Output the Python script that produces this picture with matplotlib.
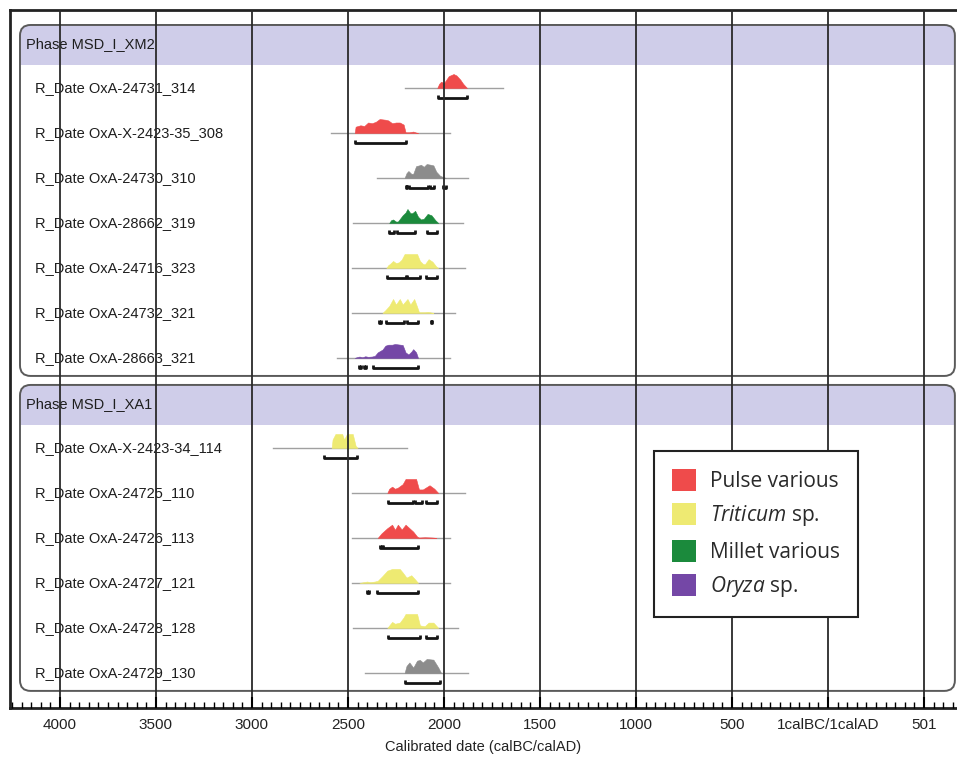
import matplotlib.pyplot as plt
from matplotlib.patches import FancyBboxPatch, Rectangle, Patch
from matplotlib.ticker import MultipleLocator

plt.rcParams['font.family'] = ['Liberation Sans', 'DejaVu Sans']
plt.rcParams['mathtext.fontset'] = 'custom'
plt.rcParams['mathtext.rm'] = 'Open Sans'
plt.rcParams['mathtext.it'] = 'Open Sans:italic'

# Phases and samples (dates in years calBC, AD as negative)
phases = ['Phase MSD_I_XM2', 'Phase MSD_I_XA1']
phase_counts = [7, 6]
labels = ['R_Date OxA-24731_314', 'R_Date OxA-X-2423-35_308', 'R_Date OxA-24730_310',
          'R_Date OxA-28662_319', 'R_Date OxA-24716_323', 'R_Date OxA-24732_321',
          'R_Date OxA-28663_321',
          'R_Date OxA-X-2423-34_114', 'R_Date OxA-24725_110', 'R_Date OxA-24726_113',
          'R_Date OxA-24727_121', 'R_Date OxA-24728_128', 'R_Date OxA-24729_130']
kinds = ['pulse', 'pulse', 'other', 'millet', 'triticum', 'triticum', 'oryza',
         'triticum', 'pulse', 'pulse', 'triticum', 'triticum', 'other']
kind_colors = {'pulse': '#ef4b4b', 'triticum': '#eeea72', 'millet': '#1b8a3c',
               'oryza': '#7447a6', 'other': '#8c8c8c'}

# Posterior outlines: (dates, relative heights)
dens_dates = [
    [2035, 2025, 2015, 2000, 1990, 1975, 1950, 1935, 1915, 1900, 1880],
    [2465, 2460, 2435, 2415, 2395, 2375, 2355, 2335, 2305, 2290, 2270, 2250, 2230, 2210, 2200, 2180, 2160, 2145, 2135],
    [2205, 2195, 2185, 2170, 2160, 2145, 2130, 2120, 2105, 2090, 2070, 2055, 2040, 2020, 2000, 1990],
    [2285, 2275, 2265, 2250, 2240, 2215, 2200, 2190, 2175, 2165, 2150, 2135, 2120, 2105, 2085, 2065, 2045, 2030],
    [2300, 2290, 2280, 2265, 2250, 2235, 2220, 2205, 2140, 2125, 2110, 2100, 2080, 2060, 2040, 2030],
    [2320, 2305, 2285, 2265, 2250, 2230, 2215, 2190, 2175, 2155, 2140, 2130, 2100, 2085, 2065, 2055],
    [2465, 2455, 2440, 2425, 2410, 2395, 2375, 2360, 2345, 2320, 2305, 2290, 2270, 2255, 2215, 2200, 2185, 2170, 2160, 2145, 2135],
    [2585, 2580, 2565, 2530, 2520, 2505, 2475, 2460, 2450],
    [2295, 2285, 2270, 2255, 2240, 2215, 2200, 2145, 2130, 2110, 2075, 2050, 2030],
    [2345, 2325, 2295, 2270, 2255, 2240, 2220, 2200, 2180, 2160, 2140, 2130, 2100, 2060, 2040],
    [2440, 2420, 2400, 2385, 2360, 2345, 2320, 2295, 2270, 2230, 2215, 2195, 2170, 2150, 2135],
    [2295, 2270, 2255, 2230, 2210, 2200, 2140, 2125, 2100, 2080, 2055, 2035, 2030],
    [2205, 2195, 2180, 2160, 2140, 2125, 2110, 2090, 2055, 2030, 2015],
]
dens_heights = [
    [0, 0.3, 0.45, 0.35, 0.55, 0.85, 1.0, 0.9, 0.6, 0.3, 0],
    [0, 0.45, 0.55, 0.5, 0.75, 0.7, 0.8, 1.0, 0.95, 0.9, 0.7, 0.75, 0.75, 0.6, 0.05, 0.05, 0.1, 0.03, 0],
    [0, 0.35, 0.5, 0.3, 0.3, 0.85, 0.9, 0.95, 0.8, 1.0, 0.95, 0.9, 0.45, 0.15, 0.05, 0],
    [0, 0.2, 0.25, 0.1, 0.1, 0.55, 0.75, 1.0, 0.7, 0.7, 0.87, 0.45, 0.25, 0.3, 0.65, 0.55, 0.2, 0],
    [0, 0.2, 0.3, 0.5, 0.35, 0.4, 0.6, 1.0, 1.0, 0.5, 0.3, 0.25, 0.63, 0.45, 0.1, 0],
    [0, 0.2, 0.5, 1.0, 0.6, 1.0, 0.6, 1.0, 0.6, 1.0, 0.45, 0.05, 0.05, 0.08, 0.03, 0],
    [0, 0.05, 0.1, 0.05, 0.12, 0.08, 0.1, 0.15, 0.4, 0.6, 0.88, 0.95, 0.95, 1.0, 0.93, 0.4, 0.25, 0.45, 0.63, 0.4, 0],
    [0, 0.6, 1.0, 1.0, 0.6, 1.0, 1.0, 0.15, 0],
    [0, 0.3, 0.45, 0.3, 0.38, 0.63, 1.0, 1.0, 0.25, 0.25, 0.55, 0.3, 0],
    [0, 0.33, 0.7, 0.95, 0.58, 0.95, 0.6, 0.95, 0.7, 0.45, 0.1, 0.03, 0.05, 0.03, 0],
    [0, 0.05, 0.1, 0.05, 0.1, 0.15, 0.5, 0.88, 1.0, 1.0, 0.75, 0.38, 0.55, 0.25, 0],
    [0, 0.43, 0.3, 0.38, 0.75, 1.0, 1.0, 0.18, 0.12, 0.38, 0.38, 0.08, 0],
    [0, 0.5, 0.75, 0.38, 0.88, 0.93, 0.75, 1.0, 0.95, 0.4, 0],
]
# Thin likelihood line extent
base_ranges = [(2205, 1695), (2590, 1970), (2350, 1875), (2475, 1900), (2480, 1890),
               (2480, 1940), (2555, 1970), (2890, 2195), (2480, 1890), (2480, 1970),
               (2480, 1970), (2475, 1925), (2410, 1875)]
# 95.4% ranges (brackets)
hpd_ranges = [
    [(2030, 1880)],
    [(2465, 2200)],
    [(2198, 2190), (2182, 2085), (2073, 2052), (2005, 1990)],
    [(2285, 2260), (2245, 2150), (2090, 2035)],
    [(2295, 2200), (2195, 2125), (2095, 2035)],
    [(2340, 2330), (2300, 2210), (2195, 2135), (2070, 2060)],
    [(2440, 2430), (2415, 2405), (2370, 2135)],
    [(2625, 2455)],
    [(2290, 2160), (2150, 2115), (2095, 2035)],
    [(2335, 2325), (2320, 2135)],
    [(2400, 2390), (2350, 2135)],
    [(2290, 2125), (2095, 2035)],
    [(2205, 2020)],
]

tick_years = [4000, 3500, 3000, 2500, 2000, 1500, 1000, 500, 0, -500]
tick_labels = ['4000', '3500', '3000', '2500', '2000', '1500', '1000', '500', '1calBC/1calAD', '501']

legend_kinds = ['pulse', 'triticum', 'millet', 'oryza']
legend_labels = ['Pulse various', r'$\mathit{Triticum}$ sp.', 'Millet various', r'$\mathit{Oryza}$ sp.']

# Logistics for the plt
fig = plt.figure(figsize=(9.57, 7.62), dpi=100)
ax = fig.add_axes([10 / 957, 54 / 762, 947 / 957, 698 / 762])
ax.set_xlim(4260, -672)
ax.set_ylim(14.78, -0.733)

# aspect so the panel corners come out round
aspect = (1 / 45) / (500 / 96)
panel_left, panel_right = 4208, -661
panel_w = panel_left - panel_right
style = 'round,pad=0,rounding_size=55'

row = 0
slot = 0
for name, n in zip(phases, phase_counts):
    top = slot - 0.4
    height = n + 0.8
    # panel background and header band
    ax.add_patch(FancyBboxPatch((panel_right, top), panel_w, height, boxstyle=style,
                                mutation_aspect=aspect, facecolor='white', edgecolor='none', zorder=0.8))
    header = FancyBboxPatch((panel_right, top), panel_w, 1.4, boxstyle=style,
                            mutation_aspect=aspect, facecolor='#cfcde9', edgecolor='none', zorder=0.9)
    ax.add_patch(header)
    header.set_clip_path(Rectangle((panel_right, top), panel_w, 0.9, transform=ax.transData))
    ax.add_patch(FancyBboxPatch((panel_right, top), panel_w, height, boxstyle=style,
                                mutation_aspect=aspect, facecolor='none', edgecolor='#5a5a5a',
                                lw=1.4, zorder=1.0))
    ax.text(4177, slot + 0.03, name, va='center', ha='left', fontsize=10.5, color='#1e1e1e', zorder=2)
    # Iterate over the samples of the phase
    for i in range(n):
        y = slot + 1 + i
        ax.text(4130, y, labels[row], va='center', ha='left', fontsize=10.5, color='#1e1e1e', zorder=2)
        ax.plot(base_ranges[row], [y, y], color='#a0a0a0', lw=1, zorder=1.5)
        hs = [y - 0.31 * h for h in dens_heights[row]]
        ax.fill_between(dens_dates[row], y, hs, color=kind_colors[kinds[row]], lw=0.4, zorder=2)
        yb = y + 0.22
        for a, b in hpd_ranges[row]:
            ax.plot([a, a, b, b], [yb - 0.07, yb, yb, yb - 0.07], color='#151515', lw=2,
                    solid_capstyle='butt', zorder=2)
        row += 1
    slot += n + 1

# Ticks
ax.set_xticks(tick_years, tick_labels)
ax.xaxis.set_minor_locator(MultipleLocator(50))
ax.tick_params(axis='x', which='major', direction='in', length=8, width=1.5, pad=7,
               labelsize=11, labelcolor='#222')
ax.tick_params(axis='x', which='minor', direction='in', length=4.5, width=1)
ax.set_yticks([])
ax.grid(axis='x', which='major', color='#2a2a2a', lw=1.3)
ax.set_axisbelow(False)
for side in ['left', 'top', 'bottom']:
    ax.spines[side].set_linewidth(2)
    ax.spines[side].set_color('#222')
ax.spines['right'].set_visible(False)

# Labels and legend
ax.set_xlabel('Calibrated date (calBC/calAD)', fontsize=10.5, color='#222', labelpad=6)
handles = [Patch(facecolor=kind_colors[k], edgecolor='none') for k in legend_kinds]
leg = ax.legend(handles, legend_labels, loc='upper left', bbox_to_anchor=(654 / 957, 1 - 451 / 762),
                bbox_transform=fig.transFigure, prop={'family': 'Open Sans', 'size': 15},
                frameon=True, fancybox=False, edgecolor='#222', framealpha=1, borderpad=0.85,
                handlelength=1.15, handleheight=1.25, handletextpad=0.7, labelspacing=0.55,
                borderaxespad=0)
leg.get_frame().set_linewidth(1.5)
for t in leg.get_texts():
    t.set_color('#2a2a2a')
leg.set_zorder(5)

fig.savefig('out.png', dpi=100)
